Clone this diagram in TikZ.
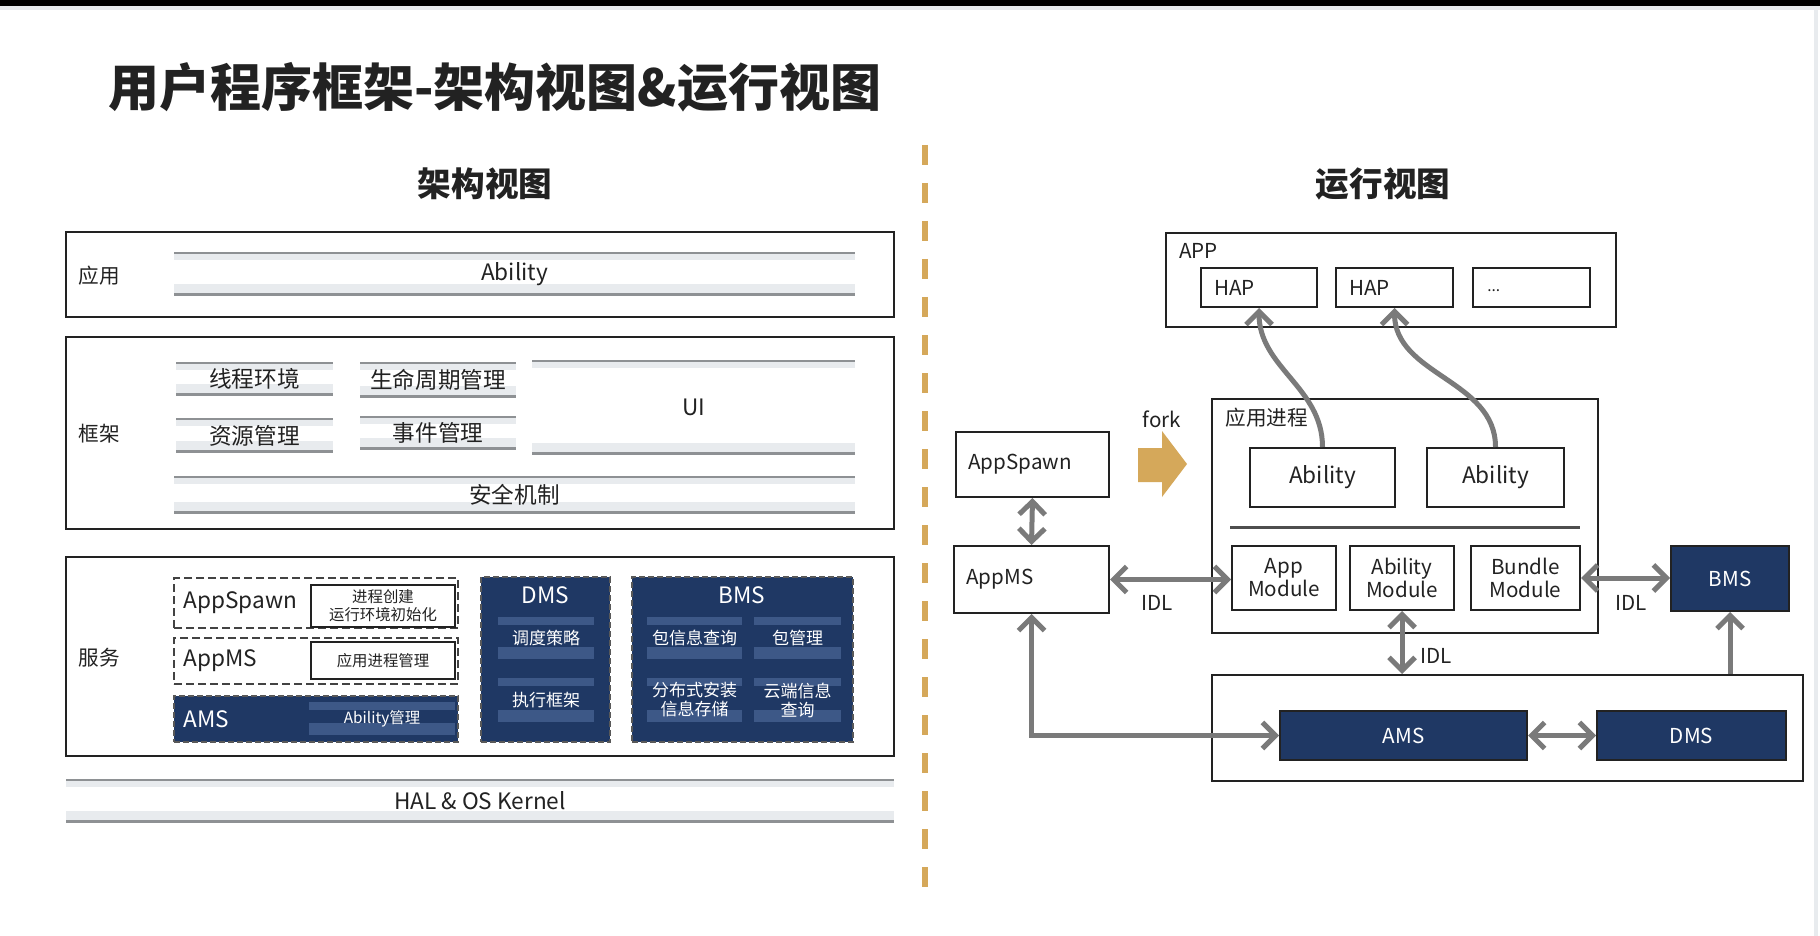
\documentclass[tikz,border=0pt]{standalone}
\usepackage{fontspec}
\setmainfont{Noto Sans CJK SC}
\usepackage{xcolor}
\usetikzlibrary{arrows.meta, positioning}

\definecolor{ink}{HTML}{222222}
\definecolor{navy}{HTML}{1F3864}
\definecolor{navylight}{HTML}{3D5887}
\definecolor{bandgray}{HTML}{8E9194}
\definecolor{bandfill}{HTML}{E8EBEE}
\definecolor{linkgray}{HTML}{7A7A7A}
\definecolor{gold}{HTML}{D5A85A}

\tikzset{
  t25b/.style={font=\fontsize{25.5}{30}\selectfont\bfseries},
  t17b/.style={font=\fontsize{16.8}{20}\selectfont\bfseries},
  t11/.style={font=\fontsize{11.3}{13.5}\selectfont},
  t10/.style={font=\fontsize{10.3}{11.5}\selectfont},
  t85/.style={font=\fontsize{8.5}{9.5}\selectfont},
  t77/.style={font=\fontsize{7.7}{9}\selectfont},
  tag/.style={anchor=west, inner sep=0pt},
  panel/.style={draw=ink, line width=1.3pt, minimum width=414pt},
  box/.style={draw=ink, line width=1pt, fill=white},
  dashbox/.style={draw=ink!85, line width=0.9pt, dash pattern=on 4pt off 2pt},
  darkbox/.style={fill=navy, draw=ink!75, line width=0.8pt, dash pattern=on 3pt off 1.5pt, text=white},
  navybox/.style={fill=navy, draw=ink, line width=1pt, text=white},
  bar/.style n args={3}{fill=#1, inner sep=0pt, path picture={
    \fill[#3] ([yshift=-1pt]path picture bounding box.north west) rectangle ([yshift=-4pt]path picture bounding box.north east);
    \fill[#3] ([yshift=6pt]path picture bounding box.south west) rectangle ([yshift=1pt]path picture bounding box.south east);
    \fill[#2] (path picture bounding box.north west) rectangle ([yshift=-1.2pt]path picture bounding box.north east);
    \fill[#2] ([yshift=1.5pt]path picture bounding box.south west) rectangle (path picture bounding box.south east);
  }},
  graybar/.style={bar={white}{bandgray}{bandfill}},
  navybar/.style={bar={navy}{navylight}{navylight}, text=white},
  simplex/.style={draw=linkgray, line width=2.5pt, -{Straight Barb[length=6.5pt,width=13pt]}},
  duplex/.style={draw=linkgray, line width=2.5pt, {Straight Barb[length=6.5pt,width=13pt]}-{Straight Barb[length=6.5pt,width=13pt]}}
}

\begin{document}
\begin{tikzpicture}[x=0.5pt, y=-0.5pt, text=ink, t11]

\useasboundingbox (0,0) rectangle (1820,936);
\fill[white] (0,0) rectangle (1820,936);
\fill[black] (0,0) rectangle (1820,6);
\fill[bandfill] (0,6) rectangle (1820,10);
\fill[bandfill] (1814,10) rectangle (1818,936);

\node[tag, t25b] (title) at (108,87) {用户程序框架-架构视图\&运行视图};
\node[t17b] (archTitle) at (485,184) {架构视图};
\node[t17b] (runTitle) at (1383,184) {运行视图};

\coordinate (divTop) at (925,145);
\coordinate (divBot) at (925,888);
\draw[gold, line width=3pt, dash pattern=on 10pt off 9pt] (divTop) -- (divBot);

% architecture view
\node[panel, minimum height=42.5pt] (appLayer) at (480,274.5) {};
\node[panel, minimum height=96pt] (fwLayer) at (480,433) {};
\node[panel, minimum height=99.5pt] (svcLayer) at (480,656.5) {};
\node[t10] (appLabel) at (99,276) {应用};
\node[t10] (fwLabel) at (99,434) {框架};
\node[t10] (svcLabel) at (99,658) {服务};

\node[graybar, minimum width=340.5pt, minimum height=22pt] (abilityBar) at (514.5,274) {Ability};
\node[graybar, minimum width=78.5pt, minimum height=17pt] (threadBar) at (254.5,379) {线程环境};
\node[graybar, minimum width=78pt, minimum height=18pt] (lifeBar) at (438,380) {生命周期管理};
\node[graybar, minimum width=78.5pt, minimum height=17.5pt] (resBar) at (254.5,435.5) {资源管理};
\node[graybar, minimum width=78pt, minimum height=17pt] (eventBar) at (438,433) {事件管理};
\node[graybar, minimum width=161.5pt, minimum height=47.5pt] (uiBar) at (693.5,407.5) {UI};
\node[graybar, minimum width=340.5pt, minimum height=19pt] (secBar) at (514.5,495) {安全机制};
\node[graybar, minimum width=414pt, minimum height=22pt] (halBar) at (480,801) {HAL \& OS Kernel};

\node[dashbox, minimum width=142pt, minimum height=25pt] (spawnGroup) at (316,603) {};
\node[box, t77, align=center, inner sep=0pt, minimum width=72pt, minimum height=21pt] (spawnDuty) at (383,606) {进程创建\\运行环境初始化};
\node[tag] (spawnName) at ([xshift=5pt]spawnGroup.west) {AppSpawn};

\node[dashbox, minimum width=142pt, minimum height=23pt] (msGroup) at (316,661) {};
\node[box, t77, inner sep=0pt, minimum width=72pt, minimum height=18.5pt] (msDuty) at (383,660.5) {应用进程管理};
\node[tag] (msName) at ([xshift=5pt]msGroup.west) {AppMS};

\node[darkbox, minimum width=142pt, minimum height=23pt] (amsGroup) at (316,719) {};
\node[navybar, t77, minimum width=73pt, minimum height=16.5pt] (amsDuty) at (382,718.5) {Ability管理};
\node[tag, text=white] (amsName) at ([xshift=5pt]amsGroup.west) {AMS};

\node[darkbox, minimum width=64.5pt, minimum height=82.5pt] (dmsGroup) at (545.5,659.5) {};
\node[text=white] (dmsName) at (545.5,595) {DMS};
\node[navybar, t85, minimum width=48pt, minimum height=21pt] (dmsSched) at (546,638) {调度策略};
\node[navybar, t85, minimum width=48pt, minimum height=22pt] (dmsExec) at (546,700) {执行框架};

\node[darkbox, minimum width=110.5pt, minimum height=82.5pt] (bmsGroup) at (742.5,659.5) {};
\node[text=white] (bmsName) at (742,595) {BMS};
\node[navybar, t85, minimum width=47.5pt, minimum height=21pt] (bmsQuery) at (694.5,638) {包信息查询};
\node[navybar, t85, minimum width=43.5pt, minimum height=21pt] (bmsManage) at (797.5,638) {包管理};
\node[navybar, t85, align=center, minimum width=47.5pt, minimum height=22pt] (bmsStore) at (694.5,700) {分布式安装\\信息存储};
\node[navybar, t85, align=center, minimum width=43.5pt, minimum height=22pt] (bmsCloud) at (797.5,700) {云端信息\\查询};

% running view
\node[box, minimum width=225pt, minimum height=47pt] (appPkg) at (1391,280) {};
\node[tag, t10] (appPkgName) at ([xshift=7pt,yshift=-9.5pt]appPkg.north west) {APP};
\node[box, minimum width=58pt, minimum height=19.5pt] (hapA) at (1259,287.5) {};
\node[box, minimum width=58.5pt, minimum height=19.5pt] (hapB) at (1394.5,287.5) {};
\node[box, minimum width=58.5pt, minimum height=19.5pt] (hapMore) at (1531.5,287.5) {};
\node[tag, t10] (hapAName) at ([xshift=7pt]hapA.west) {HAP};
\node[tag, t10] (hapBName) at ([xshift=7pt]hapB.west) {HAP};
\node[tag, t77] (hapMoreName) at ([xshift=7.5pt,yshift=-1.5pt]hapMore.west) {...};

\node[box, minimum width=193pt, minimum height=117pt] (procBox) at (1405,516) {};
\node[tag, t10] (procName) at ([xshift=7pt,yshift=-10pt]procBox.north west) {应用进程};
\node[box, minimum width=72.5pt, minimum height=29.5pt] (abilityA) at (1322.5,477.5) {Ability};
\node[box, minimum width=68.5pt, minimum height=29.5pt] (abilityB) at (1495.5,477.5) {Ability};
\coordinate (sepL) at (1230,527);
\coordinate (sepR) at (1580,527);
\draw[ink!80, line width=1.5pt] (sepL) -- (sepR);
\node[box, t10, align=center, inner sep=0pt, minimum width=52pt, minimum height=32pt] (appMod) at (1284,578) {App\\Module};
\node[box, t10, align=center, inner sep=0pt, minimum width=52pt, minimum height=32pt] (abilityMod) at (1402,578) {Ability\\Module};
\node[box, t10, align=center, inner sep=0pt, minimum width=54.5pt, minimum height=32pt] (bundleMod) at (1525.5,578) {Bundle\\Module};

\node[box, minimum width=76.5pt, minimum height=32.5pt] (spawnProc) at (1032.5,464.5) {};
\node[tag, t10] (spawnProcName) at ([xshift=6.5pt]spawnProc.west) {AppSpawn};
\node[box, minimum width=77.5pt, minimum height=33.5pt] (msProc) at (1031.5,579.5) {};
\node[tag, t10] (msProcName) at ([xshift=6.5pt]msProc.west) {AppMS};

\fill[gold] (1138,448) -- (1162,448) -- (1162,431) -- (1187,464) -- (1162,497) -- (1162,482) -- (1138,482) -- cycle;
\node[t10] (forkName) at (1162,419) {fork};

\node[navybox, t10, minimum width=59pt, minimum height=32.5pt] (bmsProc) at (1730,578.5) {BMS};
\node[box, minimum width=295.5pt, minimum height=53pt] (sysBox) at (1507.5,728) {};
\node[navybox, t10, minimum width=123.5pt, minimum height=24.5pt] (amsProc) at (1403.5,735.5) {AMS};
\node[navybox, t10, minimum width=94.5pt, minimum height=24.5pt] (dmsProc) at (1691.5,735.5) {DMS};

\draw[duplex] (spawnProc.south) -- (msProc.north);
\draw[duplex] (msProc.east) -- (msProc.east -| appMod.west);
\draw[duplex] (bundleMod.east) -- (bundleMod.east -| bmsProc.west);
\draw[duplex] (abilityMod.south) -- (abilityMod.south |- sysBox.north);
\draw[duplex] (msProc.south) |- (amsProc.west);
\draw[duplex] (amsProc.east) -- (dmsProc.west);
\draw[simplex] (bmsProc.south |- sysBox.north) -- (bmsProc.south);
\draw[simplex] (abilityA.north) to[out=90, in=-90] (hapA.south);
\draw[simplex] (abilityB.north) to[out=90, in=-90] (hapB.south);

\node[t10] (idlLeft) at (1157,603) {IDL};
\node[t10] (idlRight) at (1631,603) {IDL};
\node[tag, t10] (idlDown) at (1420,656) {IDL};

\end{tikzpicture}
\end{document}
